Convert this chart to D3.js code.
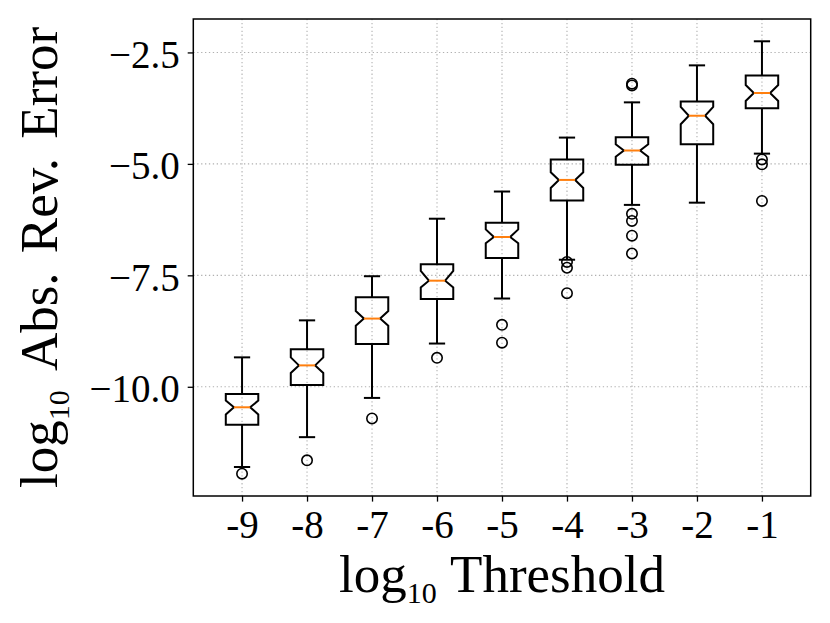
<!DOCTYPE html>
<html>
<head>
<meta charset="utf-8">
<script src="https://cdn.jsdelivr.net/npm/d3@7/dist/d3.min.js"></script>
<style>
  html, body { margin: 0; padding: 0; background: #fff; }
  svg { display: block; }
  text { font-family: "Liberation Serif", "DejaVu Serif", serif; fill: #000; }
</style>
</head>
<body>
<svg id="chart" width="830" height="623"></svg>
<script>
// ---- data (log10 values) ----
const categories   = ["-9", "-8", "-7", "-6", "-5", "-4", "-3", "-2", "-1"];
const whiskerHigh  = [-9.34, -8.51, -7.52, -6.23, -5.62, -4.41, -3.62, -2.79, -2.25];
const q3Values     = [-10.16, -9.16, -7.99, -7.25, -6.32, -4.90, -4.40, -3.60, -3.02];
const notchHigh    = [-10.31, -9.34, -8.30, -7.40, -6.47, -5.19, -4.56, -3.72, -3.23];
const medians      = [-10.46, -9.52, -8.47, -7.62, -6.64, -5.36, -4.70, -3.92, -3.41];
const notchLow     = [-10.62, -9.69, -8.63, -7.77, -6.78, -5.54, -4.84, -4.11, -3.59];
const q1Values     = [-10.85, -9.96, -9.04, -8.03, -7.11, -5.82, -5.02, -4.56, -3.75];
const whiskerLow   = [-11.80, -11.13, -10.25, -9.03, -8.02, -7.15, -5.92, -5.87, -4.77];
const outliers     = [
  [-11.95],
  [-11.65],
  [-10.71],
  [-9.35],
  [-8.61, -9.01],
  [-7.20, -7.33, -7.90],
  [-3.20, -3.24, -6.12, -6.28, -6.61, -7.01],
  [],
  [-4.90, -5.01, -5.83]
];
const yTickValues  = [-2.5, -5.0, -7.5, -10.0];
const xLabelMain   = "log";
const xLabelSub    = "10";
const xLabelRest   = "Threshold";
const yLabelRest   = "Abs. Rev. Error";

// ---- layout ----
const plot = { left: 193.3, right: 810.7, top: 19, bottom: 496 };
const svg = d3.select("#chart");

const x = d3.scaleLinear().domain([0.25, 9.75]).range([plot.left, plot.right]);
const y = d3.scaleLinear().domain([-12.45, -1.75]).range([plot.bottom, plot.top]);
const pos = categories.map((c, i) => i + 1);
const boxW = x(0.5) - x(0);
const capW = x(0.25) - x(0);

// grid
const grid = svg.append("g").attr("stroke", "#b0b0b0").attr("stroke-width", 1.1)
  .attr("stroke-dasharray", "1.3,2.6");
grid.selectAll("line.gx").data(pos).join("line")
  .attr("x1", d => x(d)).attr("x2", d => x(d))
  .attr("y1", plot.top).attr("y2", plot.bottom);
grid.selectAll("line.gy").data(yTickValues).join("line")
  .attr("x1", plot.left).attr("x2", plot.right)
  .attr("y1", d => y(d)).attr("y2", d => y(d));

// boxes
const boxes = categories.map((c, i) => ({
  p: pos[i], wh: whiskerHigh[i], q3: q3Values[i], nh: notchHigh[i], med: medians[i],
  nl: notchLow[i], q1: q1Values[i], wl: whiskerLow[i], out: outliers[i]
}));

const g = svg.append("g");
const bg = g.selectAll("g.box").data(boxes).join("g");

// whiskers
bg.append("line").attr("x1", d => x(d.p)).attr("x2", d => x(d.p))
  .attr("y1", d => y(d.q3)).attr("y2", d => y(d.wh))
  .attr("stroke", "#000").attr("stroke-width", 2);
bg.append("line").attr("x1", d => x(d.p)).attr("x2", d => x(d.p))
  .attr("y1", d => y(d.q1)).attr("y2", d => y(d.wl))
  .attr("stroke", "#000").attr("stroke-width", 2);
// caps
bg.append("line").attr("x1", d => x(d.p) - capW / 2).attr("x2", d => x(d.p) + capW / 2)
  .attr("y1", d => y(d.wh)).attr("y2", d => y(d.wh))
  .attr("stroke", "#000").attr("stroke-width", 2);
bg.append("line").attr("x1", d => x(d.p) - capW / 2).attr("x2", d => x(d.p) + capW / 2)
  .attr("y1", d => y(d.wl)).attr("y2", d => y(d.wl))
  .attr("stroke", "#000").attr("stroke-width", 2);

// notched box
bg.append("path")
  .attr("d", d => {
    const cx = x(d.p), L = cx - boxW / 2, R = cx + boxW / 2;
    const iL = cx - boxW / 4, iR = cx + boxW / 4;
    const pts = [
      [L, y(d.q1)], [L, y(d.nl)], [iL, y(d.med)], [L, y(d.nh)], [L, y(d.q3)],
      [R, y(d.q3)], [R, y(d.nh)], [iR, y(d.med)], [R, y(d.nl)], [R, y(d.q1)]
    ];
    return d3.line()(pts) + "Z";
  })
  .attr("fill", "none").attr("stroke", "#000").attr("stroke-width", 2)
  .attr("stroke-linejoin", "miter");

// medians
bg.append("line").attr("x1", d => x(d.p) - boxW / 4).attr("x2", d => x(d.p) + boxW / 4)
  .attr("y1", d => y(d.med)).attr("y2", d => y(d.med))
  .attr("stroke", "#ff7f0e").attr("stroke-width", 2);

// outliers
bg.selectAll("circle").data(d => d.out.map(v => ({ p: d.p, v }))).join("circle")
  .attr("cx", d => x(d.p)).attr("cy", d => y(d.v)).attr("r", 5.2)
  .attr("fill", "none").attr("stroke", "#000").attr("stroke-width", 1.6);

// axes
const yAxis = d3.axisLeft(y).tickValues(yTickValues).tickFormat(d3.format(".1f"))
  .tickSize(5.6).tickPadding(8);
const ya = svg.append("g").attr("transform", `translate(${plot.left},0)`).call(yAxis);
ya.select(".domain").remove();
ya.selectAll(".tick line").attr("stroke", "#000").attr("stroke-width", 1.3);
ya.selectAll(".tick text").attr("font-size", 39).attr("dy", 15)
  .attr("font-family", '"Liberation Serif", serif').attr("fill", "#000");

const xAxis = d3.axisBottom(x).tickValues(pos).tickFormat((d, i) => categories[i])
  .tickSize(5.6).tickPadding(8);
const xa = svg.append("g").attr("transform", `translate(0,${plot.bottom})`).call(xAxis);
xa.select(".domain").remove();
xa.selectAll(".tick line").attr("stroke", "#000").attr("stroke-width", 1.3);
xa.selectAll(".tick text").attr("font-size", 39).attr("dy", null).attr("y", 42.3)
  .attr("font-family", '"Liberation Serif", serif').attr("fill", "#000");

// frame
svg.append("rect").attr("x", plot.left).attr("y", plot.top)
  .attr("width", plot.right - plot.left).attr("height", plot.bottom - plot.top)
  .attr("fill", "none").attr("stroke", "#000").attr("stroke-width", 1.5);

// axis labels
function label(sel, rest) {
  sel.append("tspan").text(xLabelMain);
  sel.append("tspan").attr("font-size", 30).attr("dy", 11.6).text(xLabelSub);
  sel.append("tspan").attr("dy", -11.6).text("\u00a0" + rest);
}
const xl = svg.append("text").attr("x", (plot.left + plot.right) / 2).attr("y", 591.7)
  .attr("text-anchor", "middle").attr("font-size", 53);
label(xl, xLabelRest);

const yl = svg.append("text")
  .attr("transform", `translate(57,${(plot.top + plot.bottom) / 2}) rotate(-90)`)
  .attr("text-anchor", "middle").attr("font-size", 53).attr("word-spacing", 6);
label(yl, yLabelRest);
</script>
</body>
</html>
